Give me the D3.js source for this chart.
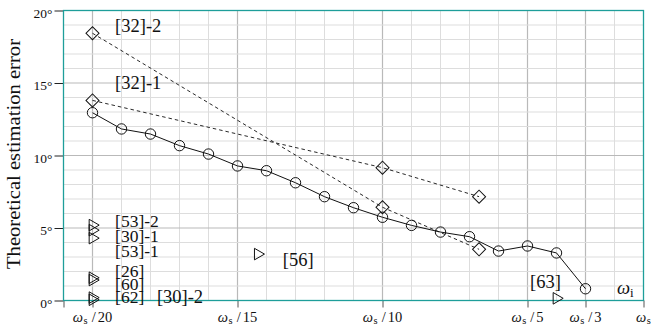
<!DOCTYPE html>
<html>
<head>
<meta charset="utf-8">
<script src="https://cdnjs.cloudflare.com/ajax/libs/d3/7.8.5/d3.min.js"></script>
<style>
body { margin: 0; background: #fff; }
text { font-family: "Liberation Serif", "DejaVu Serif", serif; fill: #111; }
</style>
</head>
<body>
<div id="chart"></div>
<script>
// x values are the divisor d of omega_s  (omega_i = omega_s / d)
var ours_d   = [20, 19, 18, 17, 16, 15, 14, 13, 12, 11, 10, 9, 8, 7, 6, 5, 4, 3];
var ours_err = [12.95, 11.83, 11.48, 10.68, 10.1, 9.28, 8.95, 8.12, 7.16, 6.4,
                5.74, 5.18, 4.72, 4.4, 3.41, 3.76, 3.28, 0.81];

var ref32_1_d   = [20, 10, 6.67];
var ref32_1_err = [13.8, 9.16, 7.16];
var ref32_2_d   = [20, 10, 6.67];
var ref32_2_err = [18.43, 6.43, 3.53];

// single-point methods (triangles)
var single_names = ["[53]-2", "[30]-1", "[53]-1", "[26]", "[60]", "[62]", "[30]-2", "[56]", "[63]"];
var single_d     = [20, 20, 20, 20, 20, 20, 20, 14.3, 4];
var single_err   = [5.2, 4.85, 4.3, 1.57, 1.41, 0.2, 0.05, 3.2, 0.15];

var x_tick_labels = [20, 15, 10, 5, 3, 1];
var y_tick_values = [0, 5, 10, 15, 20];

// annotation texts, anchored in data coordinates (left / baseline)
var note_text = ["[32]-2", "[32]-1", "[53]-2", "[30]-1", "[53]-1", "[26]", "[60]", "[62]", "[30]-2", "[56]", "[63]"];
var note_d    = [19.22, 19.22, 19.22, 19.22, 19.22, 19.22, 19.22, 19.22, 17.78, 13.44, 4.91];
var note_err  = [18.52, 14.6, 5.05, 4.06, 3.02, 1.62, 0.73, -0.17, -0.17, 2.4, 0.84];
var note_stacked = [false, false, true, true, true, true, true, true, false, false, false];

var width = 651, height = 334;
var svg = d3.select("#chart").append("svg")
	.attr("width", width)
	.attr("height", height);

var x_scale = d3.scaleLinear().domain([21, 1]).range([63.5, 643.5]);
var y_scale = d3.scaleLinear().domain([0, 20]).range([300.5, 10.5]);

var serif = "'Liberation Serif', 'DejaVu Serif', serif";

// grid
var grid = svg.append("g").attr("class", "grid");
var major_x = [20, 15, 10, 5, 3];
d3.range(2, 21).forEach(function(d) {
	var major = major_x.indexOf(d) != -1;
	grid.append("line")
		.attr("x1", x_scale(d)).attr("x2", x_scale(d))
		.attr("y1", y_scale(0)).attr("y2", y_scale(20))
		.attr("stroke", major ? "#b9b9b9" : "#dddddd")
		.attr("stroke-width", major ? 1.2 : 1);
});
d3.range(1, 20).forEach(function(v) {
	var major = v % 5 == 0;
	grid.append("line")
		.attr("x1", x_scale(21)).attr("x2", x_scale(1))
		.attr("y1", y_scale(v)).attr("y2", y_scale(v))
		.attr("stroke", major ? "#b9b9b9" : "#dddddd")
		.attr("stroke-width", major ? 1.2 : 1);
});

// axes ticks
var y_axis = svg.append("g")
	.attr("transform", "translate(" + x_scale(21) + ",0)")
	.call(d3.axisLeft(y_scale).tickValues(y_tick_values).tickSize(9).tickPadding(2)
		.tickFormat(function(d) { return d + "°"; }));
y_axis.select(".domain").remove();
y_axis.selectAll(".tick line").attr("stroke", "#222");
y_axis.selectAll(".tick text")
	.style("font-family", serif)
	.attr("font-size", 13.5)
	.attr("dy", "0.5em")
	.attr("fill", "#222");

var x_axis = svg.append("g")
	.attr("transform", "translate(0," + y_scale(0) + ")")
	.call(d3.axisBottom(x_scale).tickValues([21, 20, 15, 10, 5, 3, 1]).tickSize(7).tickFormat(""));
x_axis.select(".domain").remove();
x_axis.selectAll(".tick line").attr("stroke", "#555");

// x tick labels: omega_s / d
var xl = svg.append("g").selectAll("text")
	.data(x_tick_labels)
	.enter()
	.append("text")
	.attr("x", function(d) { return x_scale(d); })
	.attr("y", 321.5)
	.attr("text-anchor", "middle")
	.attr("font-size", 14.5)
	.style("font-family", serif)
	.attr("fill", "#222");
xl.append("tspan").attr("font-style", "italic").text("ω");
xl.append("tspan").attr("font-size", 10.5).attr("dy", 2.5).attr("dx", 0.5).text("s");
xl.each(function(d) {
	if(d != 1) {
		d3.select(this).append("tspan").attr("dy", -2.5).attr("dx", 4).text("/");
		d3.select(this).append("tspan").attr("dx", 2).text(d);
	}
});

// frame
svg.append("rect")
	.attr("x", x_scale(21)).attr("y", y_scale(20))
	.attr("width", x_scale(1) - x_scale(21))
	.attr("height", y_scale(0) - y_scale(20))
	.attr("fill", "none")
	.attr("stroke", "#1e9e9a")
	.attr("stroke-width", 1.3);

// lines
var line = d3.line()
	.x(function(d) { return x_scale(d[0]); })
	.y(function(d) { return y_scale(d[1]); });

var ours = d3.zip(ours_d, ours_err);
var r1 = d3.zip(ref32_1_d, ref32_1_err);
var r2 = d3.zip(ref32_2_d, ref32_2_err);

svg.append("path").datum(r1).attr("d", line)
	.attr("fill", "none").attr("stroke", "#111").attr("stroke-width", 0.9)
	.attr("stroke-dasharray", "3.5,3");
svg.append("path").datum(r2).attr("d", line)
	.attr("fill", "none").attr("stroke", "#111").attr("stroke-width", 0.9)
	.attr("stroke-dasharray", "3.5,3");
svg.append("path").datum(ours).attr("d", line)
	.attr("fill", "none").attr("stroke", "#111").attr("stroke-width", 1);

// markers
svg.append("g").selectAll("circle")
	.data(ours).enter().append("circle")
	.attr("cx", function(d) { return x_scale(d[0]); })
	.attr("cy", function(d) { return y_scale(d[1]); })
	.attr("r", 5.2)
	.attr("fill", "none")
	.attr("stroke", "#111")
	.attr("stroke-width", 1);

var diamond = d3.symbol().type(d3.symbolSquare).size(85);
svg.append("g").selectAll("path")
	.data(r1.concat(r2)).enter().append("path")
	.attr("d", diamond)
	.attr("transform", function(d) {
		return "translate(" + x_scale(d[0]) + "," + y_scale(d[1]) + ") rotate(45)";
	})
	.attr("fill", "none")
	.attr("stroke", "#111")
	.attr("stroke-width", 1);

var tri = d3.symbol().type(d3.symbolTriangle).size(58);
svg.append("g").selectAll("path")
	.data(d3.zip(single_d, single_err)).enter().append("path")
	.attr("d", tri)
	.attr("transform", function(d) {
		return "translate(" + x_scale(d[0]) + "," + y_scale(d[1]) + ") rotate(90)";
	})
	.attr("fill", "none")
	.attr("stroke", "#111")
	.attr("stroke-width", 1);

// annotations (stacked ones slightly smaller, they sit close together)
svg.append("g").selectAll("text")
	.data(d3.zip(note_text, note_d, note_err, note_stacked)).enter().append("text")
	.attr("x", function(d) { return x_scale(d[1]); })
	.attr("y", function(d) { return y_scale(d[2]); })
	.attr("font-size", function(d) { return d[3] ? 17.5 : 18.5; })
	.text(function(d) { return d[0]; });

// omega_i axis name
var wi = svg.append("text")
	.attr("x", 617)
	.attr("y", 293.5)
	.attr("font-size", 18.5);
wi.append("tspan").attr("font-style", "italic").text("ω");
wi.append("tspan").attr("font-size", 13).attr("dy", 3).text("i");

// y label
svg.append("text")
	.attr("transform", "translate(20,154) rotate(-90)")
	.attr("text-anchor", "middle")
	.attr("font-size", 19)
	.attr("textLength", 230)
	.attr("lengthAdjust", "spacingAndGlyphs")
	.text("Theoretical estimation error");
</script>
</body>
</html>
